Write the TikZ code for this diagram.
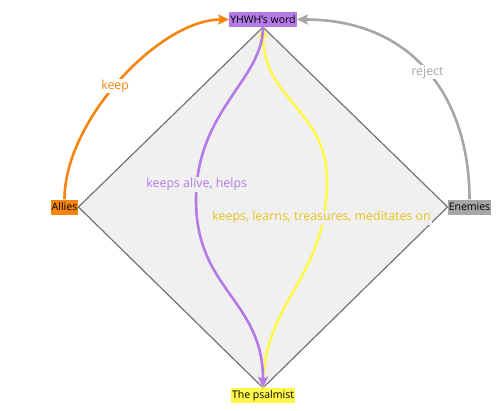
\documentclass[tikz,border=0pt]{standalone}
\usepackage{fontspec}
\setmainfont{Open Sans}
\usepackage{xcolor}
\usetikzlibrary{arrows.meta}
\definecolor{wordpurple}{HTML}{B47BE6}
\definecolor{allyorange}{HTML}{F5850F}
\definecolor{enemygray}{HTML}{A6A6A6}
\definecolor{psalmyellow}{HTML}{FFF84A}
\definecolor{labelgold}{HTML}{E8C41C}
\definecolor{diamondfill}{HTML}{F0F0F0}

\begin{document}
\begin{tikzpicture}[x=1pt, y=-1pt, font=\fontsize{10.5}{12}\selectfont]
    \tikzset{box/.style={inner xsep=1pt, inner ysep=2pt, text=black, minimum height=15pt},
             lbl/.style={inner sep=1pt, font=\fontsize{12.4}{14}\selectfont},
             arc/.style={line width=2.6pt, -{Stealth[length=11pt, width=10pt, inset=2pt]}}}
    \useasboundingbox (0,0) rectangle (500,410);

    \node[box, fill=wordpurple] (word) at (263,19.5) {YHWH's word};
    \node[box, fill=allyorange] (allies) at (64.5,207) {Allies};
    \node[box, fill=enemygray] (enemies) at (469.5,207) {Enemies};
    \node[box, fill=psalmyellow] (psalmist) at (263,395.5) {The psalmist};

    \draw[line width=1.2pt, draw=black!55, fill=diamondfill]
        (word.south) -- (allies.east) -- (psalmist.north) -- (enemies.west) -- cycle;

    \draw[arc, allyorange] (allies.north) .. controls (64.5,120) and (160,19.5) .. node[pos=0.47, lbl, fill=white, text=allyorange] {keep} (word.west);
    \draw[arc, enemygray] (enemies.north) .. controls (469.5,100) and (415,19.5) .. node[pos=0.5, lbl, fill=white, text=enemygray] {reject} (word.east);

    \draw[arc, psalmyellow] (psalmist.north) .. controls (263,300) and (327,280) .. node[pos=0.86, xshift=-2pt, lbl, fill=diamondfill, text=labelgold] {keeps, learns, treasures, meditates on} (327,180) .. controls (327,110) and (263,100) .. (word.south);
    \draw[arc, wordpurple] (word.south) .. controls (263,80) and (196,110) .. node[pos=0.94, lbl, fill=diamondfill, text=wordpurple] {keeps alive, helps} (196,200) .. controls (196,290) and (263,300) .. (psalmist.north);
\end{tikzpicture}
\end{document}
